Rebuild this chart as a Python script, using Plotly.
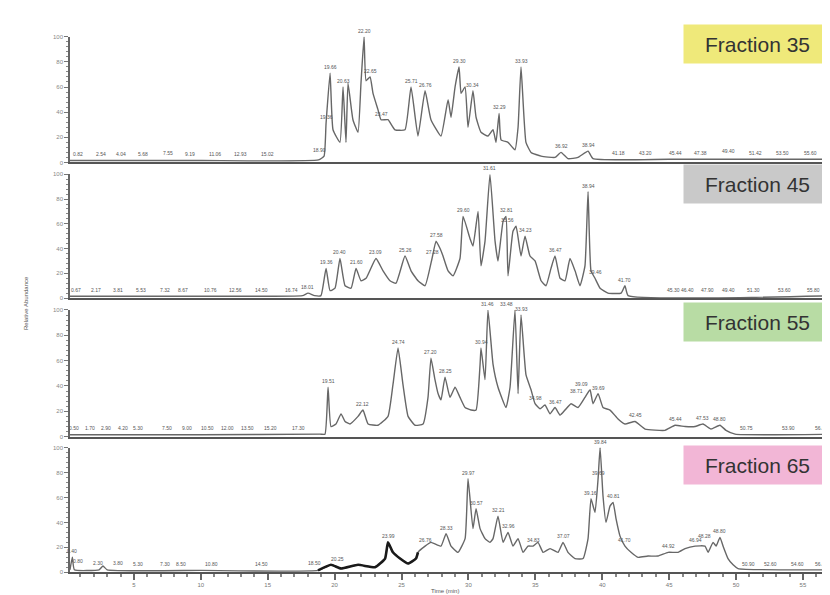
import plotly.graph_objects as go

# ---------------- data (time in min, relative abundance %) ----------------
f35_t = [0.22, 10.0, 18.8, 19.21, 19.36, 19.66, 19.88, 20.40, 20.63, 20.85, 21.00, 21.37, 21.75, 21.97, 22.20,
         22.35, 22.65, 22.87, 23.24, 23.47, 23.99, 24.51, 25.26, 25.71, 26.23, 26.76, 27.20, 27.95, 28.48,
         28.70, 29.00, 29.30, 29.45, 29.75, 29.97, 30.34, 30.57, 30.94, 31.46, 31.84, 32.06, 32.29, 32.44,
         32.96, 33.48, 33.71, 33.93, 34.30, 34.68, 35.43, 36.47, 36.92, 37.44, 38.19, 38.94, 39.31, 45.0, 57.62]
f35_v = [1.5, 1.5, 2, 5, 31, 71, 26, 16, 60, 16, 63, 34, 24, 63, 100,
         65, 68, 55, 42, 34, 34, 26, 26, 60, 21, 57, 34, 21, 50,
         36, 60, 76, 55, 60, 28, 57, 36, 24, 21, 26, 16, 39, 18,
         16, 10, 28, 76, 16, 8, 5, 4, 8, 3, 4, 9, 3, 2.5, 2.5]
f35_peak_t = [18.9, 19.36, 19.66, 20.63, 22.20, 22.65, 23.47, 25.71, 26.76, 29.30, 30.34, 32.29, 33.93]
f35_peak_v = [5, 31, 71, 60, 100, 68, 34, 60, 57, 76, 57, 39, 76]
f35_noise_t = [0.82, 2.54, 4.04, 5.68, 7.55, 9.19, 11.06, 12.93, 15.02, 36.92, 38.94, 41.18, 43.20, 45.44,
               47.38, 49.40, 51.42, 53.50, 55.60]
f35_noise_v = [2, 2, 2, 2, 3, 2, 2, 2, 2, 8, 9, 3, 3, 3, 3, 4, 3, 3, 3]

f45_t = [0.22, 10.0, 17.6, 18.01, 18.5, 18.98, 19.36, 19.66, 20.03, 20.40, 20.78, 21.23, 21.60, 21.97, 22.35,
         23.09, 23.62, 24.14, 24.59, 25.26, 25.71, 26.23, 26.76, 27.28, 27.58, 27.88, 28.10, 28.48, 28.85,
         29.37, 29.60, 30.12, 30.34, 30.72, 30.94, 31.24, 31.61, 31.99, 32.21, 32.59, 32.81, 32.96, 33.33,
         33.56, 33.93, 34.23, 34.60, 34.98, 35.43, 35.80, 36.17, 36.47, 36.85, 37.22, 37.59, 37.97, 38.34,
         38.71, 38.94, 39.16, 39.46, 39.84, 40.43, 41.41, 41.70, 41.93, 57.62]
f45_v = [1.5, 1.5, 2, 4, 2, 2, 24, 6, 8, 32, 10, 8, 24, 14, 16,
         32, 22, 14, 12, 34, 22, 14, 10, 32, 46, 40, 34, 22, 18,
         32, 66, 48, 42, 70, 26, 46, 100, 46, 30, 62, 66, 18, 54,
         58, 34, 50, 34, 30, 14, 10, 24, 34, 16, 14, 32, 22, 10,
         26, 86, 22, 16, 8, 4, 4, 10, 2, 2]
f45_peak_t = [18.01, 19.36, 20.40, 21.60, 23.09, 25.26, 27.28, 27.58, 29.60, 31.61, 32.81, 33.56, 34.23,
              36.47, 38.94, 39.46, 41.70]
f45_peak_v = [4, 24, 32, 24, 32, 34, 32, 46, 66, 100, 66, 58, 50, 34, 86, 16, 10]
f45_noise_t = [0.67, 2.17, 3.81, 5.53, 7.32, 8.67, 10.76, 12.56, 14.50, 16.74, 45.3, 46.4, 47.9, 49.4,
               51.3, 53.6, 55.8]
f45_noise_v = [2, 2, 2, 2, 2, 2, 2, 2, 2, 2, 2, 2, 2, 2, 2, 2, 2]

f55_t = [0.22, 10.0, 18.9, 19.28, 19.51, 19.73, 20.10, 20.48, 20.78, 21.15, 21.75, 22.12, 22.50, 23.24,
         23.99, 24.36, 24.74, 25.11, 25.49, 26.01, 26.61, 26.98, 27.20, 27.50, 27.73, 27.95, 28.25, 28.62,
         29.00, 29.37, 29.75, 30.19, 30.57, 30.87, 30.94, 31.24, 31.46, 31.84, 32.21, 32.81, 33.11, 33.48,
         33.71, 33.93, 34.30, 34.68, 34.98, 35.35, 35.72, 36.10, 36.47, 36.85, 37.22, 37.67, 38.19, 38.71,
         39.09, 39.31, 39.69, 40.06, 40.58, 41.18, 41.70, 42.45, 43.20, 44.69, 45.44, 46.19, 46.94, 47.53,
         48.13, 48.80, 49.25, 49.93, 57.62]
f55_v = [1.5, 1.5, 2, 2, 39, 8, 10, 18, 12, 10, 16, 21, 10, 9,
         16, 41, 70, 41, 16, 9, 10, 31, 62, 45, 34, 29, 47, 31,
         39, 31, 23, 21, 21, 57, 70, 45, 100, 57, 39, 23, 39, 100,
         34, 96, 49, 37, 26, 22, 25, 18, 23, 17, 21, 26, 23, 31,
         37, 26, 34, 23, 21, 14, 10, 12, 6, 5, 9, 8, 8, 10,
         6, 9, 5, 2, 2]
f55_peak_t = [17.3, 19.51, 22.12, 24.74, 27.20, 28.25, 30.94, 31.46, 33.48, 33.93, 34.98, 36.47, 38.71,
              39.09, 39.69, 42.45, 45.44, 47.53, 48.80]
f55_peak_v = [2, 39, 21, 70, 62, 47, 70, 100, 100, 96, 26, 23, 31, 37, 34, 12, 9, 10, 9]
f55_noise_t = [0.5, 1.7, 2.9, 4.2, 5.3, 7.5, 9.0, 10.5, 12.0, 13.5, 15.2, 50.75, 53.9, 56.4]
f55_noise_v = [2, 2, 2, 2, 2, 2, 2, 2, 2, 2, 2, 2, 2, 2]

f65_t = [0.22, 0.4, 0.55, 2.4, 2.69, 3.0, 10.0, 18.76, 19.73, 20.48, 21.75, 23.02, 23.77, 23.99, 24.36,
         24.89, 25.49, 26.08, 26.23, 26.76, 27.20, 27.95, 28.33, 28.70, 29.22, 29.75, 29.97, 30.34, 30.57,
         30.87, 31.24, 31.61, 31.84, 32.21, 32.59, 32.96, 33.33, 33.71, 34.08, 34.45, 34.83, 35.20, 35.58,
         36.10, 36.70, 37.07, 37.44, 37.97, 38.57, 38.94, 39.16, 39.46, 39.69, 39.84, 40.06, 40.28, 40.58,
         40.81, 41.03, 41.33, 41.70, 42.15, 42.68, 43.42, 44.17, 44.92, 45.67, 46.19, 46.94, 47.68, 47.91,
         48.28, 48.51, 48.80, 49.03, 49.40, 49.78, 50.15, 57.62]
f65_v = [2, 12, 2, 2, 5, 2, 1.5, 1.5, 6, 3, 6, 4, 11, 24, 16,
         11, 7, 11, 16, 21, 24, 21, 31, 21, 16, 27, 75, 35, 51,
         35, 27, 24, 27, 45, 24, 32, 21, 27, 16, 21, 21, 24, 16,
         19, 16, 24, 16, 11, 11, 27, 59, 48, 75, 100, 61, 40, 53,
         56, 43, 29, 21, 16, 12, 13, 13, 16, 16, 19, 21, 21, 16,
         24, 21, 28, 21, 11, 6, 3, 2]
f65_peak_t = [0.4, 20.25, 23.99, 26.76, 28.33, 29.97, 30.57, 32.21, 32.96, 34.83, 37.07, 39.16, 39.69,
              39.84, 40.81, 41.70, 44.92, 46.94, 48.28, 48.80]
f65_peak_v = [12, 6, 24, 21, 31, 75, 51, 45, 32, 21, 24, 59, 75, 100, 56, 21, 16, 21, 24, 28]
f65_noise_t = [0.8, 2.3, 3.8, 5.3, 7.3, 8.5, 10.8, 14.5, 18.5, 50.9, 52.6, 54.6, 56.4]
f65_noise_v = [4, 3, 3, 2, 2, 2, 2, 2, 3, 2, 2, 2, 2]
f65_bold_range = [18.7, 26.6]

fraction_labels = ["Fraction 35", "Fraction 45", "Fraction 55", "Fraction 65"]
fraction_colors = ["#efe97a", "#c9c9c9", "#b8dca4", "#f2b6d6"]
y_ticks = [0, 20, 40, 60, 80, 100]

# ---------------- figure ----------------
W, H = 830, 595
XRANGE = [0.224, 57.62]
x_dom = [62 / W, 1.0]
FONT = "Liberation Sans, Arial, sans-serif"


def ydom(bottom_px, top_px):
    return [1 - bottom_px / H, 1 - top_px / H]


panel_px = [(153, 26), (290, 165), (430, 302), (567, 441)]
xaxes = ["x2", "x3", "x4", "x"]
yaxes = ["y", "y2", "y3", "y4"]

series = [
    (f35_t, f35_v, f35_peak_t, f35_peak_v, f35_noise_t, f35_noise_v),
    (f45_t, f45_v, f45_peak_t, f45_peak_v, f45_noise_t, f45_noise_v),
    (f55_t, f55_v, f55_peak_t, f55_peak_v, f55_noise_t, f55_noise_v),
    (f65_t, f65_v, f65_peak_t, f65_peak_v, f65_noise_t, f65_noise_v),
]

fig = go.Figure()
annotations = []
line_col = "#676767"
for i, (t, v, pt, pv, nt, nv) in enumerate(series):
    fig.add_trace(go.Scatter(x=t, y=v, mode="lines", xaxis=xaxes[i], yaxis=yaxes[i],
                             line=dict(color=line_col, width=1.4, shape="spline", smoothing=0.4),
                             showlegend=False, hoverinfo="skip"))
    yref = yaxes[i]
    xref = xaxes[i]
    pts = list(zip(pt, pv))
    for k, (tt, vv) in enumerate(pts):
        anchor = "center"
        if k + 1 < len(pts) and pts[k + 1][0] - tt < 0.7 and abs(pts[k + 1][1] - vv) < 12:
            anchor = "right"
        annotations.append(dict(x=tt, y=vv, xref=xref, yref=yref, text=f"{tt:.2f}", showarrow=False,
                                xanchor=anchor, yanchor="bottom", yshift=1,
                                font=dict(size=5, color="#555555", family=FONT)))
    for tt, vv in zip(nt, nv):
        annotations.append(dict(x=tt, y=vv, xref=xref, yref=yref, text=f"{tt:.2f}", showarrow=False,
                                yanchor="bottom", yshift=1,
                                font=dict(size=5, color="#555555", family=FONT)))

# bold overlay segment in bottom panel
bt = [a for a in f65_t if f65_bold_range[0] <= a <= f65_bold_range[1]]
bv = [b for a, b in zip(f65_t, f65_v) if f65_bold_range[0] <= a <= f65_bold_range[1]]
fig.add_trace(go.Scatter(x=bt, y=bv, mode="lines", xaxis="x", yaxis="y4",
                         line=dict(color="#1a1a1a", width=2.6, shape="spline", smoothing=0.4),
                         showlegend=False, hoverinfo="skip"))

layout = dict(width=W, height=H, margin=dict(l=0, r=0, t=0, b=0),
              paper_bgcolor="white", plot_bgcolor="white", showlegend=False)

yax_common = dict(range=[0, 100], tickvals=y_ticks, ticks="outside", ticklen=4, tickwidth=1,
                  tickcolor="#777777", showline=True, linecolor="#666666", linewidth=1.5,
                  tickfont=dict(size=6, color="#888888", family=FONT),
                  showgrid=False, zeroline=False, anchor="x",
                  minor=dict(dtick=4, ticks="outside", ticklen=2, tickcolor="#888888"))
for i, (b, tp) in enumerate(panel_px):
    name = "yaxis" if i == 0 else f"yaxis{i + 1}"
    layout[name] = dict(yax_common, domain=ydom(b, tp))

for i in range(3):
    name = f"xaxis{i + 2}"
    layout[name] = dict(domain=x_dom, range=XRANGE, anchor=yaxes[i], matches="x",
                        showline=True, linecolor="#555555", linewidth=2, showticklabels=False,
                        ticks="", showgrid=False, zeroline=False)
layout["xaxis"] = dict(domain=x_dom, range=XRANGE, anchor="y4", showline=True, linecolor="#555555",
                       linewidth=2, ticks="outside", tick0=0, dtick=5, ticklen=6, tickwidth=1.5,
                       tickcolor="#666666", showgrid=False, zeroline=False,
                       tickfont=dict(size=6, color="#777777", family=FONT),
                       minor=dict(dtick=1, ticks="outside", ticklen=3, tickcolor="#888888"))

# fraction labels
label_y_px = [33, 175, 314, 459]
for lab, col, ypx in zip(fraction_labels, fraction_colors, label_y_px):
    annotations.append(dict(x=749 / W, y=1 - ypx / H, xref="paper", yref="paper", text=lab,
                            xanchor="center", yanchor="middle",
                            showarrow=False, bgcolor=col, width=145, height=36,
                            font=dict(size=21, color="#333333", family=FONT)))

annotations.append(dict(x=18 / W, y=1 - 295 / H, xref="paper", yref="paper", text="Relative Abundance",
                        textangle=-90, showarrow=False, xanchor="center", yanchor="middle",
                        font=dict(size=6, color="#555555", family=FONT)))
annotations.append(dict(x=437 / W, y=1 - 586 / H, xref="paper", yref="paper", text="Time (min)",
                        showarrow=False, xanchor="center", yanchor="middle",
                        font=dict(size=6, color="#555555", family=FONT)))

layout["annotations"] = annotations
fig.update_layout(**layout)
fig.write_html("out.html")
